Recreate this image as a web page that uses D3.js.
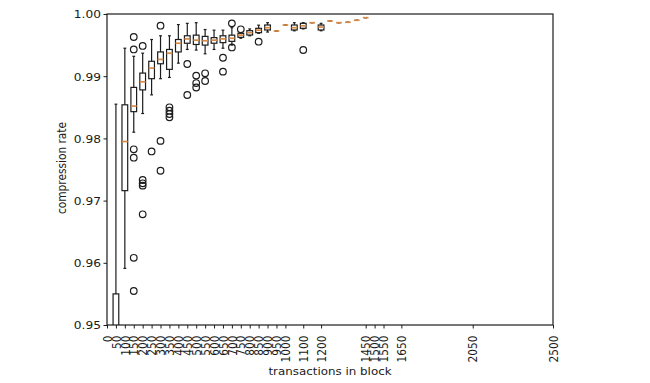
<!DOCTYPE html>
<html>
<head>
<meta charset="utf-8">
<script src="https://cdn.jsdelivr.net/npm/d3@7"></script>
<style>
  html, body { margin: 0; padding: 0; background: #fff; }
  svg { display: block; }
  text { font-family: "DejaVu Sans", sans-serif; fill: #1a1a1a; }
</style>
</head>
<body>
<svg id="chart" width="650" height="383"></svg>
<script>
// ---- data ----
const positions = [50, 100, 150, 200, 250, 300, 350, 400, 450, 500, 550, 600, 650, 700, 750, 800, 850, 900, 950, 1000, 1050, 1100, 1150, 1200, 1250, 1300, 1350, 1400, 1450];
const whiskLo = [0.930, 0.9591, 0.9810, 0.9840, 0.9870, 0.9896, 0.9898, 0.9921, 0.9943, 0.9942, 0.9936, 0.9943, 0.9945, 0.9950, 0.9961, 0.9965, 0.9969, 0.9971, 0.99727, 0.99823, 0.9973, 0.9976, 0.9986, 0.9973, 0.99887, 0.99860, 0.99867, 0.99899, 0.99941];
const q1      = [0.940, 0.9716, 0.9843, 0.9878, 0.9896, 0.9920, 0.9911, 0.9939, 0.9953, 0.9951, 0.9950, 0.9953, 0.9954, 0.9956, 0.99625, 0.99662, 0.9970, 0.99743, 0.99727, 0.99823, 0.99743, 0.99770, 0.9986, 0.99743, 0.99887, 0.99860, 0.99867, 0.99899, 0.99941];
const med     = [0.945, 0.9795, 0.9852, 0.9891, 0.9913, 0.9927, 0.9937, 0.9953, 0.9960, 0.9958, 0.9957, 0.9958, 0.9960, 0.9961, 0.9966, 0.9970, 0.9974, 0.9978, 0.99727, 0.99823, 0.9978, 0.9981, 0.9986, 0.9979, 0.99887, 0.99860, 0.99867, 0.99899, 0.99941];
const q3      = [0.9550, 0.9854, 0.9882, 0.9905, 0.9924, 0.9939, 0.9943, 0.9959, 0.9965, 0.9966, 0.9964, 0.9962, 0.9965, 0.9966, 0.99690, 0.99732, 0.99770, 0.99823, 0.99727, 0.99823, 0.99823, 0.99850, 0.9986, 0.99823, 0.99887, 0.99860, 0.99867, 0.99899, 0.99941];
const whiskHi = [0.9855, 0.9945, 0.9932, 0.9937, 0.9959, 0.9965, 0.9965, 0.9983, 0.9985, 0.9986, 0.9975, 0.9974, 0.9974, 0.9978, 0.9970, 0.9976, 0.9982, 0.9986, 0.99727, 0.99823, 0.9986, 0.9986, 0.9986, 0.9985, 0.99887, 0.99860, 0.99867, 0.99899, 0.99941];
const fliers  = [
  [], [], [0.9963, 0.9943, 0.97825, 0.9769, 0.9608, 0.95547],
  [0.99486, 0.97331, 0.97278, 0.97240, 0.96780],
  [0.9779], [0.99812, 0.9796, 0.9748], [0.98500, 0.98445, 0.98392, 0.98339],
  [], [0.99196, 0.98698], [0.99010, 0.98890, 0.98818], [0.99047, 0.98923], [],
  [0.99297, 0.99073], [0.99850, 0.99462], [0.99754], [], [0.99555], [],
  [], [], [], [0.99421], [], [], [], [], [], [], []
];
const xTicks = [0, 50, 100, 150, 200, 250, 300, 350, 400, 450, 500, 550, 600, 650, 700, 750, 800, 850, 900, 950, 1000, 1100, 1200, 1450, 1500, 1550, 1650, 2050, 2500];
const yTicks = [0.95, 0.96, 0.97, 0.98, 0.99, 1.00];
const xLabel = "transactions in block";
const yLabel = "compression rate";

// ---- layout ----
const mLeft = 107, mRight = 553, mTop = 14, mBottom = 325;
const boxW = 32;          // in data units
const sx = 1.12;          // horizontal stretch of the reference image text

const svg = d3.select("#chart");
const x = d3.scaleLinear().domain([0, 2500]).range([mLeft, mRight]);
const y = d3.scaleLinear().domain([0.95, 1.0]).range([mBottom, mTop]);

svg.append("defs").append("clipPath").attr("id", "clip")
  .append("rect").attr("x", mLeft).attr("y", mTop).attr("width", mRight - mLeft).attr("height", mBottom - mTop);

const data = positions.map((p, i) => ({
  p, lo: whiskLo[i], q1: q1[i], med: med[i], q3: q3[i], hi: whiskHi[i], fl: fliers[i]
}));

const plot = svg.append("g").attr("clip-path", "url(#clip)");
const ink = "#1c1c1c";
const sw = 1.2;
const bw = x(boxW) - x(0);

const g = plot.selectAll("g.box").data(data).join("g").attr("class", "box");
// whiskers
g.append("line").attr("x1", d => x(d.p)).attr("x2", d => x(d.p))
  .attr("y1", d => y(d.q3)).attr("y2", d => y(d.hi)).attr("stroke", ink).attr("stroke-width", sw);
g.append("line").attr("x1", d => x(d.p)).attr("x2", d => x(d.p))
  .attr("y1", d => y(d.q1)).attr("y2", d => y(d.lo)).attr("stroke", ink).attr("stroke-width", sw);
// caps
g.append("line").attr("x1", d => x(d.p) - bw / 4).attr("x2", d => x(d.p) + bw / 4)
  .attr("y1", d => y(d.hi)).attr("y2", d => y(d.hi)).attr("stroke", ink).attr("stroke-width", sw);
g.append("line").attr("x1", d => x(d.p) - bw / 4).attr("x2", d => x(d.p) + bw / 4)
  .attr("y1", d => y(d.lo)).attr("y2", d => y(d.lo)).attr("stroke", ink).attr("stroke-width", sw);
// box
g.append("rect").attr("x", d => x(d.p) - bw / 2).attr("width", bw)
  .attr("y", d => y(d.q3)).attr("height", d => Math.max(0, y(d.q1) - y(d.q3)))
  .attr("fill", "none").attr("stroke", ink).attr("stroke-width", sw);
// median
g.append("line").attr("x1", d => x(d.p) - bw / 2).attr("x2", d => x(d.p) + bw / 2)
  .attr("y1", d => y(d.med)).attr("y2", d => y(d.med))
  .attr("stroke", "#d98a45").attr("stroke-width", 1.7);
// fliers
g.selectAll("circle").data(d => d.fl.map(v => ({ p: d.p, v }))).join("circle")
  .attr("cx", d => x(d.p)).attr("cy", d => y(d.v)).attr("r", 3.3)
  .attr("fill", "none").attr("stroke", ink).attr("stroke-width", sw);

// ---- axes ----
const xAxis = svg.append("g").attr("transform", `translate(0,${mBottom})`)
  .call(d3.axisBottom(x).tickValues(xTicks).tickSize(3.5).tickSizeOuter(0).tickFormat(d3.format("d")));
xAxis.select(".domain").remove();
xAxis.selectAll(".tick line").attr("stroke", ink);
xAxis.selectAll(".tick text")
  .attr("x", 0).attr("y", 0).attr("dy", "0.35em")
  .attr("text-anchor", "end")
  .attr("transform", `translate(0,10.5) scale(${sx},1) rotate(-90)`)
  .style("font-size", "10.6px").style("font-family", "DejaVu Sans");

const yAxis = svg.append("g").attr("transform", `translate(${mLeft},0)`)
  .call(d3.axisLeft(y).tickValues(yTicks).tickSize(3.5).tickSizeOuter(0).tickFormat(d3.format(".2f")));
yAxis.select(".domain").remove();
yAxis.selectAll(".tick line").attr("stroke", ink);
yAxis.selectAll(".tick text")
  .attr("x", 0).attr("dy", "0.35em")
  .attr("transform", `translate(-6,0) scale(${sx},1)`)
  .style("font-size", "10.9px").style("font-family", "DejaVu Sans");

// spines
svg.append("rect").attr("x", mLeft).attr("y", mTop).attr("width", mRight - mLeft).attr("height", mBottom - mTop)
  .attr("fill", "none").attr("stroke", ink).attr("stroke-width", sw);

// labels
svg.append("text").attr("text-anchor", "middle")
  .attr("transform", `translate(${(mLeft + mRight) / 2},375) scale(${sx},1)`)
  .style("font-size", "10.6px").text(xLabel);
svg.append("text").attr("text-anchor", "middle")
  .attr("transform", `translate(66,168) scale(${sx},1) rotate(-90)`)
  .style("font-size", "10.6px").text(yLabel);
</script>
</body>
</html>
